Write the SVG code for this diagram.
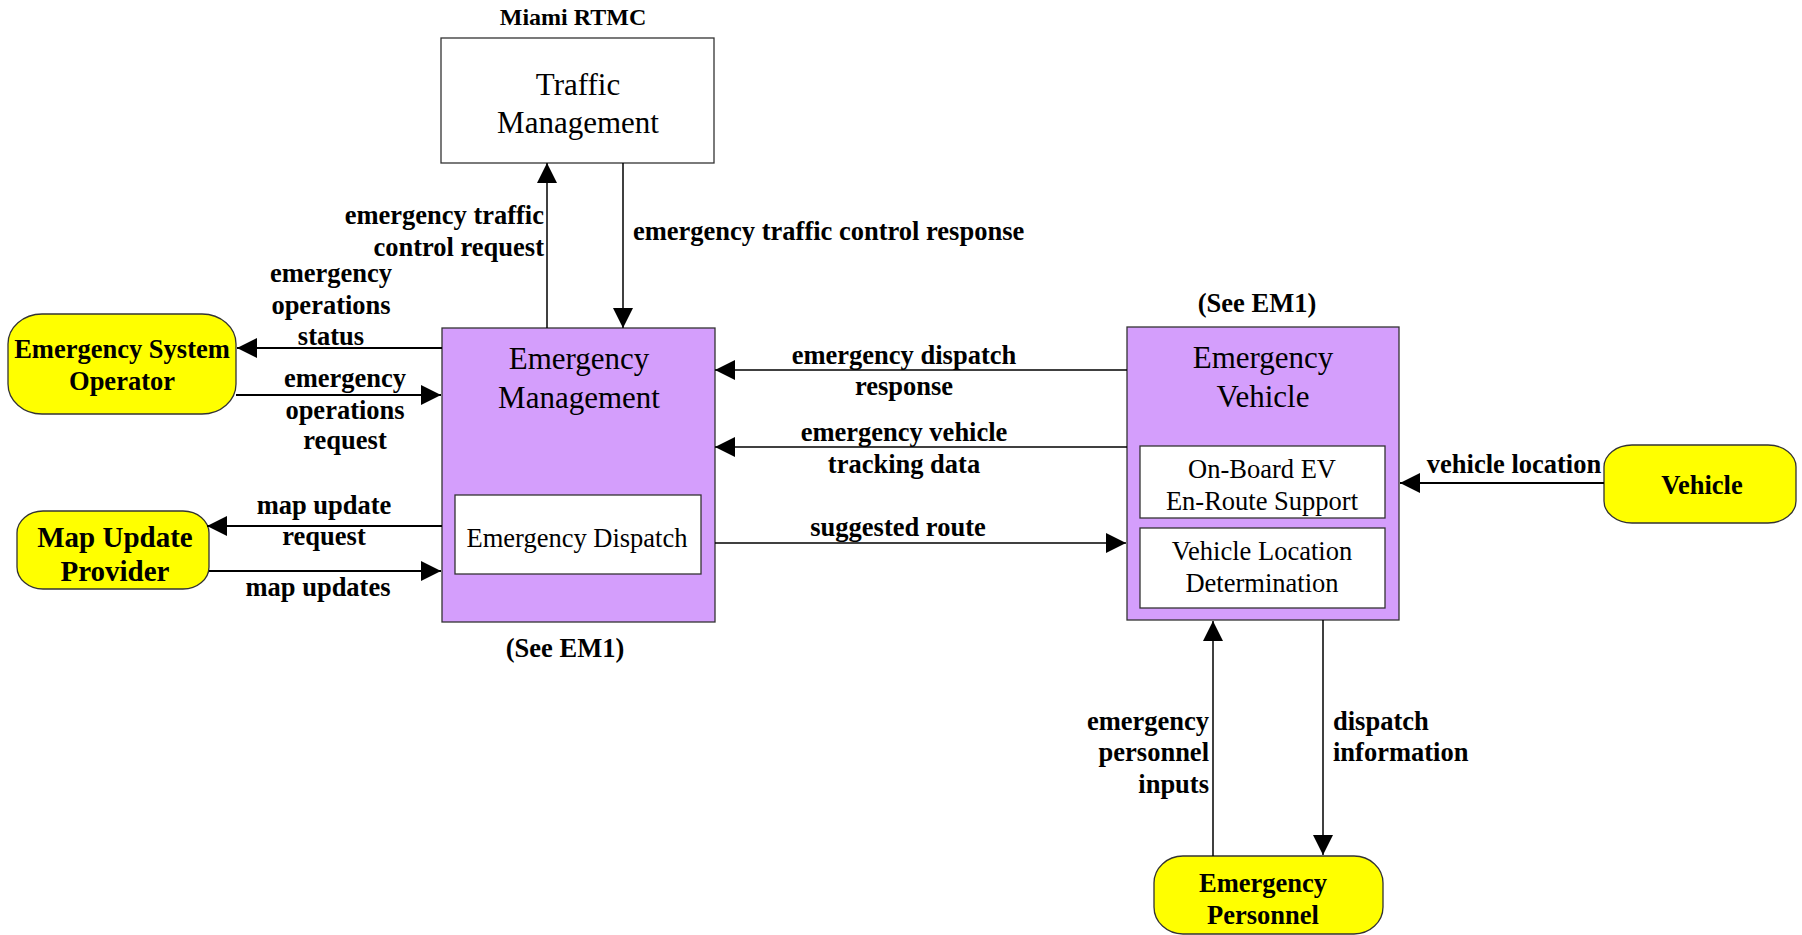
<svg xmlns="http://www.w3.org/2000/svg" width="1802" height="935" viewBox="0 0 1802 935">
<defs>
<marker id="arr" markerUnits="userSpaceOnUse" markerWidth="21" markerHeight="20" refX="20" refY="10" orient="auto">
<path d="M0,0 L20,10 L0,20 z" fill="#000"/>
</marker>
<style>
.box{stroke:#333;stroke-width:1.3}
.purple{fill:#D49EFC}
.white{fill:#fff}
.yellow{fill:#FFFF00;stroke:#333;stroke-width:1.3}
.title{font-family:"Liberation Serif",serif;font-size:31px;text-anchor:middle;fill:#000}
.sub{font-family:"Liberation Serif",serif;font-size:26.5px;text-anchor:middle;fill:#000}
.bold{font-family:"Liberation Serif",serif;font-size:26.5px;font-weight:bold;fill:#000}
.mid{text-anchor:middle}
.end{text-anchor:end}
.start{text-anchor:start}
.ln{stroke:#000;stroke-width:1.5;fill:none;marker-end:url(#arr)}
.lnb{stroke:#000;stroke-width:2.2;fill:none;marker-end:url(#arr)}
</style>
</defs>
<rect width="1802" height="935" fill="#fff"/>

<g id="traffic-management">
<text class="bold mid" x="573" y="25" style="font-size:24px">Miami RTMC</text>
<rect class="box white" x="441" y="38" width="273" height="125"/>
<text class="title" x="578" y="95">Traffic</text>
<text class="title" x="578" y="133">Management</text>
</g>

<g id="emergency-management">
<rect class="box purple" x="442" y="328" width="273" height="294"/>
<text class="title" x="579" y="369">Emergency</text>
<text class="title" x="579" y="408">Management</text>
<rect class="box white" x="455" y="495" width="246" height="79"/>
<text class="sub" x="577" y="547">Emergency Dispatch</text>
<text class="bold mid" x="565" y="657">(See EM1)</text>
</g>

<g id="emergency-vehicle">
<text class="bold mid" x="1257" y="312">(See EM1)</text>
<rect class="box purple" x="1127" y="327" width="272" height="293"/>
<text class="title" x="1263" y="368">Emergency</text>
<text class="title" x="1263" y="407">Vehicle</text>
<rect class="box white" x="1140" y="446" width="245" height="72"/>
<text class="sub" x="1262" y="478">On-Board EV</text>
<text class="sub" x="1262" y="510">En-Route Support</text>
<rect class="box white" x="1140" y="528" width="245" height="80"/>
<text class="sub" x="1262" y="560">Vehicle Location</text>
<text class="sub" x="1262" y="592">Determination</text>
</g>

<g id="emergency-system-operator">
<rect class="yellow" x="8" y="314" width="228" height="100" rx="34" ry="30"/>
<text class="bold mid" x="122" y="358">Emergency System</text>
<text class="bold mid" x="122" y="390">Operator</text>
</g>

<g id="map-update-provider">
<rect class="yellow" x="17" y="511" width="192" height="78" rx="26" ry="22"/>
<text class="bold mid" x="115" y="547" style="font-size:29px">Map Update</text>
<text class="bold mid" x="115" y="581" style="font-size:29px">Provider</text>
</g>

<g id="vehicle">
<rect class="yellow" x="1604" y="445" width="192" height="78" rx="28" ry="22"/>
<text class="bold mid" x="1702" y="494">Vehicle</text>
</g>

<g id="emergency-personnel">
<rect class="yellow" x="1154" y="856" width="229" height="78" rx="29" ry="27"/>
<text class="bold mid" x="1263" y="892">Emergency</text>
<text class="bold mid" x="1263" y="924">Personnel</text>
</g>

<g id="connectors">
<line class="ln" x1="547" y1="328" x2="547" y2="163"/>
<line class="ln" x1="623" y1="163" x2="623" y2="328"/>
<line class="lnb" x1="442" y1="348" x2="237" y2="348"/>
<line class="lnb" x1="236" y1="395" x2="441" y2="395"/>
<line class="lnb" x1="442" y1="526" x2="207" y2="526"/>
<line class="lnb" x1="209" y1="571" x2="441" y2="571"/>
<line class="ln" x1="1127" y1="370" x2="715" y2="370"/>
<line class="ln" x1="1127" y1="447" x2="715" y2="447"/>
<line class="ln" x1="715" y1="543" x2="1126" y2="543"/>
<line class="lnb" x1="1604" y1="483" x2="1400" y2="483"/>
<line class="ln" x1="1213" y1="856" x2="1213" y2="621"/>
<line class="ln" x1="1323" y1="620" x2="1323" y2="855"/>
</g>

<g id="labels" transform="translate(0,2)">
<text class="bold end" x="544" y="222">emergency traffic</text>
<text class="bold end" x="544" y="254">control request</text>
<text class="bold start" x="633" y="238">emergency traffic control response</text>
<text class="bold mid" x="331" y="280">emergency</text>
<text class="bold mid" x="331" y="312">operations</text>
<text class="bold mid" x="331" y="343">status</text>
<text class="bold mid" x="345" y="385">emergency</text>
<text class="bold mid" x="345" y="417">operations</text>
<text class="bold mid" x="345" y="447">request</text>
<text class="bold mid" x="324" y="512">map update</text>
<text class="bold mid" x="324" y="543">request</text>
<text class="bold mid" x="318" y="594">map updates</text>
<text class="bold mid" x="904" y="362">emergency dispatch</text>
<text class="bold mid" x="904" y="393">response</text>
<text class="bold mid" x="904" y="439">emergency vehicle</text>
<text class="bold mid" x="904" y="471">tracking data</text>
<text class="bold mid" x="898" y="534">suggested route</text>
<text class="bold mid" x="1514" y="471">vehicle location</text>
<text class="bold end" x="1209" y="728">emergency</text>
<text class="bold end" x="1209" y="759">personnel</text>
<text class="bold end" x="1209" y="791">inputs</text>
<text class="bold start" x="1333" y="728">dispatch</text>
<text class="bold start" x="1333" y="759">information</text>
</g>
</svg>
